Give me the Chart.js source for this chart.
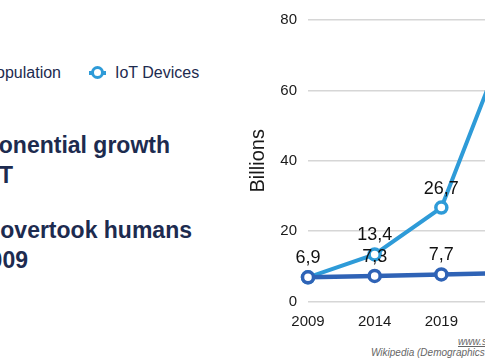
<!DOCTYPE html>
<html>
<head>
<meta charset="utf-8">
<script src="https://cdn.jsdelivr.net/npm/chart.js@4.4.1/dist/chart.umd.min.js"></script>
<style>
  html, body { margin: 0; padding: 0; background: #fff; }
  body { width: 485px; height: 360px; overflow: hidden; position: relative; font-family: "Liberation Sans", Arial, Helvetica, sans-serif; }
  .slide { position: absolute; white-space: nowrap; color: #1d2b4f; }
  .head { font-weight: bold; font-size: 23px; line-height: 30px; height: 30px; }
  .legend { font-size: 16px; line-height: 20px; height: 20px; }
  .foot { font-style: italic; font-size: 10px; line-height: 12px; color: #666; }
  #chartBox { position: absolute; left: 240px; top: 0px; width: 277px; height: 340px; }
  .mk { position: absolute; left: 89px; top: 71px; width: 17px; height: 4px; background: #2e9bd8; }
  .mk::after { content: ""; position: absolute; left: 2px; top: -5px; width: 7px; height: 7px; border: 3px solid #2e9bd8; border-radius: 50%; background: #fff; }
</style>
</head>
<body>
<div class="slide legend" style="right:424px; top:63px;">World Population</div>
<div class="mk"></div>
<div class="slide legend" style="left:115px; top:63px;">IoT Devices</div>

<div class="slide head" style="right:315px; top:130px;">Exponential growth</div>
<div class="slide head" style="right:472px; top:160px;">of IoT</div>
<div class="slide head" style="right:293px; top:215px;">IoT devices overtook humans</div>
<div class="slide head" style="right:457px; top:245px;">in 2009</div>

<div class="slide foot" style="left:458px; top:336px; text-decoration: underline;">www.statista.com</div>
<div class="slide foot" style="left:371px; top:347px;">Wikipedia (Demographics of the world)</div>

<div id="chartBox"><canvas id="c"></canvas></div>

<script>
const categories = ["2009", "2014", "2019", "2025"];
const populationValues = [6.9, 7.3, 7.7, 8.1];
const iotValues = [6.9, 13.4, 26.7, 75.4];
const yTicks = [0, 20, 40, 60, 80];
const seriesNames = ["World Population", "IoT Devices"];

const FONT = "'Liberation Sans', Arial, Helvetica, sans-serif";

const valueLabels = {
  id: 'valueLabels',
  afterDatasetsDraw(chart) {
    const ctx = chart.ctx;
    ctx.save();
    ctx.font = "18px " + FONT;
    ctx.fillStyle = "#111";
    ctx.textAlign = "center";
    ctx.textBaseline = "middle";
    chart.data.datasets.forEach((ds, di) => {
      const meta = chart.getDatasetMeta(di);
      meta.data.forEach((el, i) => {
        if (di === 1 && i === 0) return;
        const v = ds.data[i];
        ctx.fillText(v.toFixed(1).replace('.', ','), el.x, el.y - 19);
      });
    });
    ctx.restore();
  }
};

new Chart(document.getElementById('c'), {
  type: 'line',
  data: {
    labels: categories,
    datasets: [
      {
        label: seriesNames[0],
        data: populationValues,
        borderColor: '#2f63b6',
        backgroundColor: '#ffffff',
        borderWidth: 4.5,
        pointRadius: 5.5,
        pointBorderWidth: 3.5,
        pointBackgroundColor: '#ffffff',
        pointBorderColor: '#2f63b6',
        tension: 0
      },
      {
        label: seriesNames[1],
        data: iotValues,
        borderColor: '#2e9bd8',
        backgroundColor: '#ffffff',
        borderWidth: 4,
        pointRadius: 5.5,
        pointBorderWidth: 3.5,
        pointBackgroundColor: '#ffffff',
        pointBorderColor: '#2e9bd8',
        tension: 0
      }
    ]
  },
  options: {
    responsive: true,
    maintainAspectRatio: false,
    animation: false,
    layout: { padding: { top: 20, left: 0, right: 0, bottom: 0 } },
    plugins: { legend: { display: false }, tooltip: { enabled: false } },
    scales: {
      x: {
        offset: false,
        grid: { display: false },
        border: { display: false },
        ticks: { font: { size: 15, family: FONT }, color: '#1a1a1a', padding: 3, maxRotation: 0, autoSkip: false },
        afterFit(scale) { scale.height = 38.4; scale.paddingLeft = 0; scale.paddingRight = 0; }
      },
      y: {
        min: 0,
        max: 80,
        afterBuildTicks(scale) { scale.ticks = yTicks.map(v => ({ value: v })); },
        grid: { color: '#d6d6d6', lineWidth: 1.5, drawTicks: false },
        border: { display: false },
        ticks: { font: { size: 15, family: FONT }, color: '#1a1a1a', padding: 11 },
        title: { display: true, text: 'Billions', font: { size: 20, family: FONT }, color: '#1a1a1a', padding: { top: 6, bottom: 0 } },
        afterFit(scale) { scale.width = 68; scale.paddingTop = 0; scale.paddingBottom = 0; }
      }
    }
  },
  plugins: [valueLabels]
});
</script>
</body>
</html>
